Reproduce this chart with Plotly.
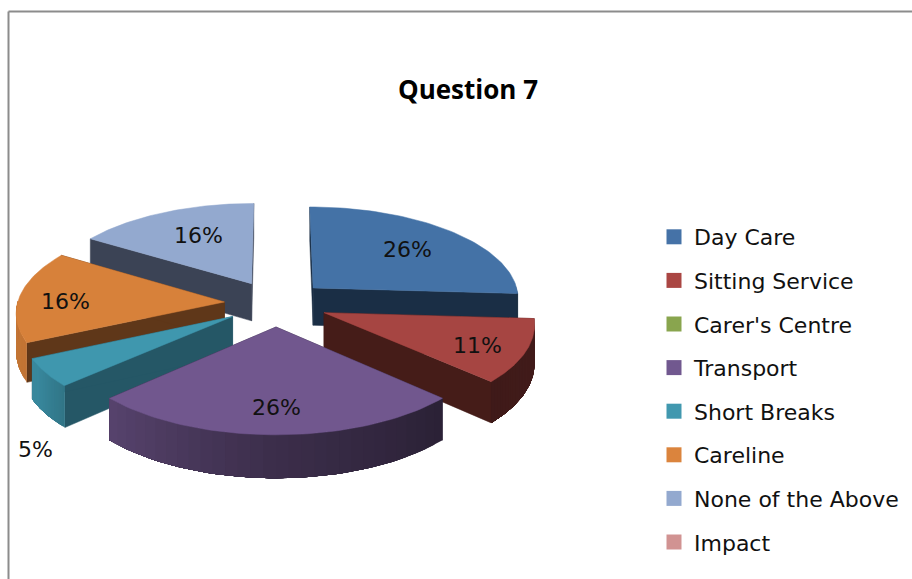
import numpy as np
import plotly.graph_objects as go

# ---- data ----
categories = ["Day Care", "Sitting Service", "Carer's Centre", "Transport",
              "Short Breaks", "Careline", "None of the Above", "Impact"]
values = [26, 11, 0, 26, 5, 16, 16, 0]
title_text = "Question 7"

# ---- styles ----
top_colors = ["#4472A6", "#A64542", "#8BA650", "#71578E", "#3F97AE", "#D7813A", "#93A9CF", "#D09293"]
legend_colors = ["#4572A7", "#AA4643", "#89A54E", "#71588F", "#4198AF", "#DB843D", "#93A9CF", "#D19392"]
radial_colors = ["#1A2E45", "#451C18", "#3A4420", "#2B2138", "#255766", "#5F3719", "#3B4355", "#55393A"]
label_pos = [(407, 249), (477, 345), None, (276, 407), (35, 449), (65, 301), (198, 235), None]
draw_order = [6, 0, 5, 4, 1, 3]

# ---- projection of the tilted, exploded pie onto the axes ----
CX, CY, RX, RY, P, DEPTH, EXPLODE = 276, 303.4, 207, 92, 0.1, 38, 0.25


def project(u, v, drop=0.0):
    s = 1 / (1 - P * v)
    return CX + RX * u * s, CY + RY * v * s + drop * s


def rgb(hex_color, f):
    c = [int(hex_color[i:i + 2], 16) for i in (1, 3, 5)]
    return "rgb(%d,%d,%d)" % tuple(int(round(min(255, x * f))) for x in c)


def poly(xs, ys, color, width=0.5):
    xs, ys = list(xs) + [xs[0]], list(ys) + [ys[0]]
    return go.Scatter(x=xs, y=ys, mode="lines", fill="toself", fillcolor=color,
                      line=dict(color=color, width=width), showlegend=False, hoverinfo="skip")


fig = go.Figure()
total = sum(values)
edges = np.concatenate([[0], np.cumsum(values)]) / total * 2 * np.pi

for i in draw_order:
    a0, a1 = edges[i], edges[i + 1]
    mid = (a0 + a1) / 2
    ou, ov = EXPLODE * np.sin(mid), -EXPLODE * np.cos(mid)
    th = np.linspace(a0, a1, 61)
    u, v = ou + np.sin(th), ov - np.cos(th)
    # radial walls
    for a in (a0, a1):
        eu, ev = ou + np.sin(a), ov - np.cos(a)
        x0, y0 = project(ou, ov)
        x1, y1 = project(eu, ev)
        x2, y2 = project(eu, ev, DEPTH)
        x3, y3 = project(ou, ov, DEPTH)
        fig.add_trace(poly([x0, x1, x2, x3], [y0, y1, y2, y3], radial_colors[i]))
    # outer wall, only on the side facing the viewer, shaded by direction
    front = np.where(-np.cos(th) >= -0.02)[0]
    if len(front) > 1:
        first, last = front[0], front[-1]
        for k in range(first, last, 2):
            j = last + 1  # every band runs to the end so no seams can open
            xt, yt = project(u[k:j], v[k:j])
            xb, yb = project(u[k:j], v[k:j], DEPTH)
            deg = np.degrees(th[k])
            f = np.interp(deg, [90, 133, 180, 227, 240, 300], [0.40, 0.38, 0.53, 0.78, 0.90, 0.92])
            fig.add_trace(poly(list(xt) + list(xb[::-1]), list(yt) + list(yb[::-1]), rgb(top_colors[i], f), 0))
    # top face
    xt, yt = project(np.r_[ou, u], np.r_[ov, v])
    fig.add_trace(poly(xt, yt, top_colors[i]))

# legend entries (all categories, including the empty ones)
for name, col in zip(categories, legend_colors):
    fig.add_trace(go.Scatter(x=[None], y=[None], mode="markers", name=name, legendgroup=name,
                             marker=dict(symbol="square", size=15, color=col)))

annotations = [dict(x=p[0], y=p[1], text=f"{val}%", showarrow=False,
                    font=dict(family="DejaVu Sans", size=22, color="#111111"))
               for val, p in zip(values, label_pos) if p is not None]

fig.update_layout(
    width=912, height=579, margin=dict(l=0, r=0, t=0, b=0),
    paper_bgcolor="white", plot_bgcolor="white",
    title=dict(text=f"<b>{title_text}</b>", x=468 / 912, y=1 - 90 / 579, xanchor="center", yanchor="middle",
               font=dict(family="Open Sans", size=26, color="black")),
    xaxis=dict(range=[0, 912], visible=False, fixedrange=True),
    yaxis=dict(range=[579, 0], visible=False, fixedrange=True),
    legend=dict(x=654 / 912, y=1 - 216 / 579, xanchor="left", yanchor="top", tracegroupgap=12,
                font=dict(family="DejaVu Sans", size=22, color="#111111"), bgcolor="rgba(0,0,0,0)"),
    annotations=annotations,
    shapes=[
        dict(type="line", x0=8.5, x1=8.5, y0=579, y1=11.5, line=dict(color="#8c8c8c", width=2)),
        dict(type="line", x0=8.5, x1=912, y0=11.5, y1=11.5, line=dict(color="#8c8c8c", width=2)),
    ],
)

fig.write_html("out.html", config={"displayModeBar": False}, post_script="document.body.style.margin='0';")
